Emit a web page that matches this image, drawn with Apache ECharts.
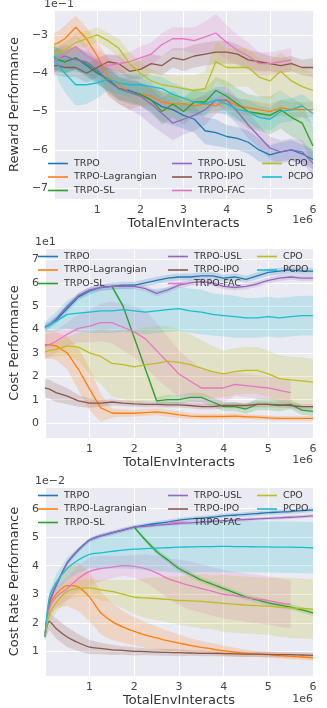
<!DOCTYPE html>
<html>
<head>
<meta charset="utf-8">
<script src="https://cdn.jsdelivr.net/npm/echarts@6/dist/echarts.min.js"></script>
<style>
  html, body { margin: 0; padding: 0; background: #fff; }
  #chart { width: 327px; height: 708px; }
</style>
</head>
<body>
<div id="chart"></div>
<script>
// x positions (1e6 env interacts)
const steps = [0, 0.1, 0.25, 0.5, 0.75, 1, 1.25, 1.5, 1.75, 2, 2.25, 2.5, 2.75, 3, 3.25, 3.5, 3.75, 4, 4.25, 4.5, 4.75, 5, 5.25, 5.5, 5.75, 6];

const algoNames = ["TRPO", "TRPO-Lagrangian", "TRPO-SL", "TRPO-USL", "TRPO-IPO", "TRPO-FAC", "CPO", "PCPO"];
const algoColors = ["#1f77b4", "#ff7f0e", "#2ca02c", "#9467bd", "#8c564b", "#e377c2", "#bcbd22", "#17becf"];

// ---- reward performance (x1e-1) ----
const rewTRPO = [-3.6,-3.65,-3.7,-3.6,-3.8,-4.0,-4.15,-4.4,-4.45,-4.55,-4.7,-4.87,-4.95,-5.1,-5.2,-5.5,-5.55,-5.65,-5.7,-5.8,-6.0,-6.13,-6.05,-6.0,-6.1,-6.25];
const rewLag = [-3.25,-3.2,-3.1,-2.8,-3.1,-3.55,-4.1,-4.3,-4.5,-4.55,-4.6,-4.75,-4.8,-4.8,-4.85,-4.8,-4.85,-4.7,-4.85,-4.9,-4.95,-5.0,-4.9,-4.95,-4.95,-4.95];
const rewSL = [-3.6,-3.65,-3.7,-3.6,-3.75,-3.95,-4.2,-4.4,-4.5,-4.55,-4.7,-5.0,-4.8,-5.0,-4.75,-4.75,-4.45,-4.6,-4.8,-5.0,-5.05,-5.1,-4.95,-5.15,-5.3,-5.9];
const rewUSL = [-3.7,-3.6,-3.55,-3.65,-3.7,-3.9,-4.2,-4.4,-4.5,-4.6,-4.8,-5.05,-5.3,-5.2,-5.1,-4.95,-4.7,-4.7,-5.0,-5.35,-5.65,-5.95,-6.05,-6.0,-6.05,-6.35];
const rewIPO = [-3.8,-3.8,-3.85,-3.85,-4.0,-3.85,-3.7,-3.75,-3.95,-3.9,-3.75,-3.8,-3.6,-3.65,-3.55,-3.5,-3.45,-3.45,-3.5,-3.65,-3.7,-3.75,-3.8,-3.75,-3.85,-3.85];
const rewFAC = [-3.7,-3.6,-3.5,-3.3,-3.55,-3.7,-3.8,-3.75,-3.7,-3.6,-3.5,-3.25,-3.1,-3.1,-3.15,-3.05,-2.95,-3.2,-3.4,-3.55,-3.75,-3.75,-3.7,-3.65,null,null];
const rewCPO = [-3.5,-3.45,-3.4,-3.2,-3.1,-3.0,-3.15,-3.35,-3.75,-4.0,-4.2,-4.3,-4.35,-4.4,-4.45,-4.4,-3.7,-3.85,-3.85,-3.85,-4.1,-4.2,-3.95,-4.2,-4.35,-4.45];
const rewPCPO = [-3.55,-3.8,-4.0,-4.3,-4.3,-4.25,-4.15,-4.25,-4.3,-4.3,-4.35,-4.4,-4.55,-4.65,-4.75,-4.8,-4.7,-4.8,-4.95,-5.0,-5.15,-5.2,-5.0,-4.95,-4.85,-5.05];

const rewTRPOsd = [0.3,0.3,0.3,0.3,0.3,0.3,0.3,0.3,0.3,0.3,0.35,0.4,0.4,0.35,0.35,0.35,0.35,0.3,0.3,0.3,0.3,0.25,0.25,0.25,0.25,0.25];
const rewLagsd = [0.3,0.3,0.35,0.3,0.3,0.35,0.5,0.5,0.45,0.3,0.25,0.25,0.2,0.2,0.2,0.2,0.2,0.2,0.2,0.2,0.2,0.2,0.2,0.2,0.2,0.2];
const rewSLsd = [0.3,0.3,0.3,0.3,0.3,0.3,0.3,0.3,0.3,0.3,0.3,0.35,0.35,0.35,0.35,0.35,0.35,0.4,0.4,0.45,0.45,0.5,0.5,0.5,0.5,0.5];
const rewUSLsd = [0.3,0.3,0.3,0.3,0.3,0.3,0.35,0.4,0.45,0.5,0.55,0.5,0.45,0.4,0.4,0.4,0.35,0.35,0.35,0.35,0.3,0.3,0.3,0.3,0.3,0.3];
const rewIPOsd = [0.25,0.25,0.25,0.25,0.25,0.25,0.2,0.2,0.2,0.25,0.25,0.25,0.25,0.3,0.3,0.3,0.3,0.3,0.25,0.25,0.25,0.2,0.2,0.2,0.2,0.25];
const rewFACsd = [0.3,0.3,0.3,0.3,0.3,0.3,0.25,0.25,0.25,0.3,0.3,0.3,0.3,0.3,0.35,0.4,0.5,0.45,0.4,0.35,0.3,0.3,0.3,0.3,null,null];
const rewCPOsd = [0.25,0.25,0.25,0.25,0.2,0.2,0.2,0.25,0.3,0.3,0.3,0.3,0.3,0.35,0.4,0.45,0.5,0.5,0.5,0.5,0.5,0.5,0.5,0.5,0.5,0.45];
const rewPCPOsd = [0.3,0.4,0.5,0.55,0.5,0.4,0.3,0.3,0.3,0.3,0.3,0.3,0.3,0.3,0.3,0.3,0.3,0.3,0.3,0.3,0.3,0.3,0.3,0.3,0.3,0.3];

// ---- cost performance (x1e1) ----
const costTRPO = [4.1,4.2,4.4,4.9,5.4,5.65,5.8,5.85,5.9,5.9,6.0,6.1,6.2,6.25,6.25,6.3,6.3,6.2,6.25,6.15,6.3,6.45,6.5,6.55,6.5,6.5];
const costLag = [3.35,3.35,3.3,3.0,2.3,1.45,0.65,0.43,0.42,0.42,0.45,0.48,0.42,0.35,0.3,0.28,0.28,0.28,0.3,0.27,0.25,0.22,0.2,0.2,0.2,0.2];
const costSL = [null,null,null,null,null,null,null,5.85,5.0,3.65,2.3,0.95,1.0,1.0,1.1,1.1,0.9,0.7,0.7,0.6,0.8,0.8,0.75,0.8,0.55,0.5];
const costUSL = [4.1,4.2,4.45,5.0,5.45,5.7,5.8,5.85,5.85,5.85,5.75,5.55,5.7,5.9,6.0,6.05,6.0,5.85,5.8,5.85,5.95,6.1,6.2,6.25,6.2,6.2];
const costIPO = [1.5,1.45,1.3,1.15,0.95,0.85,0.85,0.9,0.85,0.82,0.8,0.8,0.78,0.78,0.75,0.7,0.7,0.75,0.75,0.75,0.8,0.8,0.78,0.75,0.7,0.7];
const costFAC = [3.3,3.35,3.5,3.8,4.05,4.15,4.3,4.3,4.1,3.9,3.6,3.1,2.6,2.1,1.8,1.5,1.5,1.5,1.65,1.6,1.55,1.5,1.4,1.3,null,null];
const costCPO = [3.05,3.1,3.15,3.3,3.25,3.0,2.85,2.55,2.5,2.4,2.5,2.55,2.65,2.6,2.5,2.35,2.2,2.1,2.2,2.25,2.25,2.1,1.9,1.85,1.8,1.75];
const costPCPO = [4.1,4.2,4.35,4.65,4.7,4.75,4.8,4.8,4.85,4.8,4.75,4.8,4.85,4.9,4.8,4.75,4.65,4.6,4.55,4.5,4.5,4.55,4.5,4.55,4.6,4.6];

const costTRPOsd = [0.15,0.15,0.15,0.15,0.15,0.15,0.15,0.15,0.15,0.15,0.15,0.15,0.15,0.15,0.15,0.15,0.15,0.15,0.15,0.15,0.15,0.15,0.15,0.15,0.15,0.15];
const costLagsd = [0.6,0.6,0.6,0.7,0.9,0.9,0.6,0.2,0.15,0.15,0.15,0.15,0.15,0.15,0.12,0.12,0.12,0.12,0.12,0.1,0.1,0.1,0.1,0.1,0.1,0.1];
const costSLsd = [null,null,null,null,null,null,null,0.1,0.1,0.1,0.1,0.15,0.2,0.2,0.2,0.2,0.2,0.2,0.2,0.2,0.25,0.25,0.25,0.2,0.2,0.2];
const costUSLsd = [0.12,0.12,0.12,0.12,0.12,0.12,0.12,0.12,0.12,0.12,0.12,0.12,0.12,0.12,0.12,0.12,0.12,0.12,0.12,0.12,0.12,0.12,0.12,0.12,0.12,0.12];
const costIPOsd = [0.4,0.4,0.4,0.35,0.25,0.2,0.15,0.15,0.12,0.12,0.12,0.12,0.12,0.12,0.12,0.12,0.12,0.12,0.12,0.12,0.12,0.12,0.12,0.12,0.12,0.12];
const costFACsd = [0.5,0.5,0.5,0.5,0.6,0.7,0.8,0.9,1.0,1.1,1.2,1.2,1.1,1.0,0.9,0.8,0.7,0.6,0.5,0.5,0.5,0.5,0.5,0.5,null,null];
const costCPOsd = [0.3,0.3,0.3,0.4,0.6,0.9,1.2,1.4,1.5,1.6,1.6,1.6,1.5,1.4,1.3,1.2,1.1,1.0,1.0,1.0,1.0,1.0,1.0,1.0,1.0,1.0];
const costPCPOsd = [0.2,0.3,0.4,0.6,0.8,0.9,0.95,0.95,0.95,0.95,0.95,0.95,0.95,0.95,0.95,0.95,0.9,0.9,0.9,0.85,0.85,0.85,0.85,0.85,0.85,0.85];

// ---- cost rate performance (x1e-2) ----
const rateTRPO = [1.5,2.7,3.3,4.1,4.55,4.9,5.05,5.15,5.25,5.35,5.42,5.48,5.53,5.6,5.64,5.67,5.7,5.75,5.77,5.8,5.83,5.86,5.88,5.9,5.93,5.96];
const rateLag = [1.5,2.6,3.0,3.3,3.25,2.9,2.35,2.05,1.85,1.7,1.57,1.47,1.37,1.29,1.21,1.14,1.08,1.02,0.97,0.93,0.9,0.88,0.85,0.82,0.8,0.77];
const rateSL = [null,null,null,null,null,null,null,null,null,5.35,4.9,4.5,4.2,3.9,3.7,3.5,3.35,3.2,3.05,2.9,2.8,2.7,2.62,2.55,2.45,2.35];
const rateUSL = [1.5,2.7,3.3,4.1,4.55,4.9,5.05,5.15,5.25,5.35,5.38,5.42,5.45,5.48,5.5,5.53,5.56,5.58,5.6,5.62,5.64,5.66,5.68,5.7,5.72,5.75];
const rateIPO = [1.5,2.05,1.8,1.5,1.3,1.15,1.1,1.05,1.03,1.0,0.99,0.97,0.96,0.95,0.94,0.93,0.93,0.92,0.91,0.9,0.9,0.89,0.88,0.88,0.87,0.86];
const rateFAC = [1.5,2.5,2.9,3.2,3.55,3.8,3.9,3.95,4.0,3.98,3.9,3.75,3.55,3.42,3.3,3.2,3.1,3.0,2.95,2.88,2.83,2.78,2.7,2.65,null,null];
const rateCPO = [1.5,2.3,2.7,3.1,3.2,3.22,3.15,3.1,3.0,2.9,2.87,2.85,2.82,2.78,2.77,2.75,2.72,2.68,2.65,2.62,2.6,2.58,2.55,2.52,2.5,2.48];
const ratePCPO = [1.5,2.9,3.4,3.9,4.2,4.4,4.45,4.5,4.55,4.58,4.6,4.62,4.63,4.65,4.66,4.67,4.67,4.68,4.67,4.67,4.66,4.66,4.65,4.65,4.64,4.63];

const rateTRPOsd = [0.05,0.08,0.08,0.08,0.08,0.08,0.08,0.08,0.08,0.08,0.08,0.08,0.08,0.08,0.08,0.08,0.08,0.08,0.08,0.08,0.08,0.08,0.08,0.08,0.08,0.08];
const rateLagsd = [0.1,0.4,0.5,0.7,0.85,0.85,0.75,0.65,0.55,0.5,0.45,0.4,0.35,0.3,0.25,0.22,0.2,0.18,0.15,0.12,0.1,0.1,0.1,0.1,0.1,0.1];
const rateSLsd = [null,null,null,null,null,null,null,null,null,0.05,0.08,0.1,0.1,0.1,0.1,0.1,0.1,0.1,0.1,0.1,0.1,0.1,0.1,0.1,0.1,0.1];
const rateUSLsd = [0.05,0.06,0.06,0.06,0.06,0.06,0.06,0.06,0.06,0.06,0.06,0.06,0.06,0.06,0.06,0.06,0.06,0.06,0.06,0.06,0.06,0.06,0.06,0.06,0.06,0.06];
const rateIPOsd = [0.1,0.3,0.35,0.35,0.3,0.25,0.2,0.18,0.15,0.15,0.12,0.12,0.12,0.12,0.1,0.1,0.1,0.1,0.1,0.1,0.1,0.1,0.1,0.1,0.1,0.1];
const rateFACsd = [0.1,0.3,0.35,0.4,0.45,0.5,0.45,0.4,0.35,0.4,0.5,0.6,0.7,0.8,0.85,0.85,0.85,0.85,0.85,0.85,0.85,0.85,0.85,0.85,null,null];
const rateCPOsd = [0.1,0.3,0.35,0.3,0.3,0.3,0.35,0.4,0.5,0.6,0.7,0.75,0.8,0.85,0.9,0.95,0.95,1.0,1.0,1.0,1.0,1.0,1.05,1.05,1.05,1.05];
const ratePCPOsd = [0.1,0.2,0.3,0.4,0.45,0.5,0.55,0.6,0.65,0.7,0.75,0.8,0.85,0.9,0.9,0.9,0.9,0.9,0.9,0.9,0.9,0.9,0.9,0.9,0.9,0.9];

const panels = [
  { means: [rewTRPO, rewLag, rewSL, rewUSL, rewIPO, rewFAC, rewCPO, rewPCPO],
    sds: [rewTRPOsd, rewLagsd, rewSLsd, rewUSLsd, rewIPOsd, rewFACsd, rewCPOsd, rewPCPOsd] },
  { means: [costTRPO, costLag, costSL, costUSL, costIPO, costFAC, costCPO, costPCPO],
    sds: [costTRPOsd, costLagsd, costSLsd, costUSLsd, costIPOsd, costFACsd, costCPOsd, costPCPOsd] },
  { means: [rateTRPO, rateLag, rateSL, rateUSL, rateIPO, rateFAC, rateCPO, ratePCPO],
    sds: [rateTRPOsd, rateLagsd, rateSLsd, rateUSLsd, rateIPOsd, rateFACsd, rateCPOsd, ratePCPOsd] }
];

const yNames = ["Reward Performance", "Cost Performance", "Cost Rate Performance"];
const yMins = [-7.28, -0.64, 0.13];
const yMaxs = [-2.35, 7.49, 6.76];
const ySplits = [5, 8, 6];

const font = "DejaVu Sans";
const grids = [
  { left: 44, top: 10, width: 269, height: 189 },
  { left: 34, top: 248, width: 279, height: 190 },
  { left: 34, top: 487, width: 279, height: 190 }
];

function hexA(hex, a) {
  const n = parseInt(hex.slice(1), 16);
  return "rgba(" + (n >> 16) + "," + ((n >> 8) & 255) + "," + (n & 255) + "," + a + ")";
}

// shaded band = one polygon through the axis scales (mean +- spread)
function bandSeries(pi, k) {
  const m = panels[pi].means[k], s = panels[pi].sds[k];
  const fill = hexA(algoColors[k], 0.2);
  return {
    type: "custom", xAxisIndex: pi, yAxisIndex: pi, z: 1, silent: true, clip: true,
    data: [[steps[0], m[0]]],
    renderItem: function (params, api) {
      const upper = [], lower = [];
      steps.forEach((x, j) => {
        if (m[j] == null) return;
        upper.push(api.coord([x, m[j] + s[j]]));
        lower.push(api.coord([x, m[j] - s[j]]));
      });
      return { type: "polygon", shape: { points: upper.concat(lower.reverse()) }, style: { fill: fill } };
    }
  };
}

let series = [];
panels.forEach((p, pi) => {
  algoNames.forEach((name, k) => series.push(bandSeries(pi, k)));
  algoNames.forEach((name, k) => {
    series.push({
      name: name, type: "line", xAxisIndex: pi, yAxisIndex: pi,
      symbol: "none", z: 3, smooth: pi === 2 ? 0.3 : false,
      lineStyle: { color: algoColors[k], width: 1.3 },
      itemStyle: { color: algoColors[k] },
      data: steps.map((x, j) => [x, p.means[k][j]])
    });
  });
});

const legendTops = [158, 251, 490];
const legendCols = [[48, 172, 262], [38, 168, 257], [38, 168, 257]];
const legendGroups = [algoNames.slice(0, 3), algoNames.slice(3, 6), algoNames.slice(6)];
let legends = [];
legendTops.forEach((top, pi) => {
  legendGroups.forEach((grp, c) => {
    legends.push({
      orient: "vertical", left: legendCols[pi][c], top: top, padding: 0,
      icon: "rect", itemWidth: 20, itemHeight: 1.6, itemGap: 2.5, selectedMode: false,
      textStyle: { fontFamily: font, fontSize: 9.5, lineHeight: 11, color: "#333", padding: [0, 0, 0, 1] },
      data: grp
    });
  });
});

const minus = v => String(v).replace("-", "\u2212");

const option = {
  backgroundColor: "#ffffff",
  animation: false,
  grid: grids.map(g => Object.assign({ show: true, backgroundColor: "#EAEAF2", borderWidth: 0 }, g)),
  legend: legends,
  xAxis: grids.map((g, i) => ({
    type: "value", gridIndex: i, min: 0, max: 6, interval: 1,
    name: "TotalEnvInteracts", nameLocation: "middle", nameGap: 16,
    nameTextStyle: { fontFamily: font, fontSize: 13, color: "#333" },
    axisLine: { show: false }, axisTick: { show: false },
    axisLabel: { showMinLabel: false, fontFamily: font, fontSize: 11, color: "#444", margin: 6 },
    splitLine: { lineStyle: { color: "#ffffff", width: 1 } }
  })),
  yAxis: grids.map((g, i) => ({
    type: "value", gridIndex: i, min: yMins[i], max: yMaxs[i], splitNumber: ySplits[i],
    name: yNames[i], nameLocation: "middle", nameGap: g.left - 20,
    nameTextStyle: { fontFamily: font, fontSize: 13, color: "#333" },
    axisLine: { show: false }, axisTick: { show: false },
    axisLabel: { showMinLabel: false, showMaxLabel: false, fontFamily: font, fontSize: 11, color: "#444", margin: 6, formatter: minus },
    splitLine: { lineStyle: { color: "#ffffff", width: 1 } }
  })),
  graphic: [
    { type: "text", left: 44, top: -1, style: { text: "1e\u22121", font: "11px " + font, fill: "#444" } },
    { type: "text", right: 14, top: 215, style: { text: "1e6", font: "11px " + font, fill: "#444" } },
    { type: "text", left: 35, top: 237, style: { text: "1e1", font: "11px " + font, fill: "#444" } },
    { type: "text", right: 14, top: 455, style: { text: "1e6", font: "11px " + font, fill: "#444" } },
    { type: "text", left: 35, top: 476, style: { text: "1e\u22122", font: "11px " + font, fill: "#444" } },
    { type: "text", right: 14, top: 694, style: { text: "1e6", font: "11px " + font, fill: "#444" } }
  ],
  series: series
};

const chart = echarts.init(document.getElementById("chart"));
chart.setOption(option);
</script>
</body>
</html>
